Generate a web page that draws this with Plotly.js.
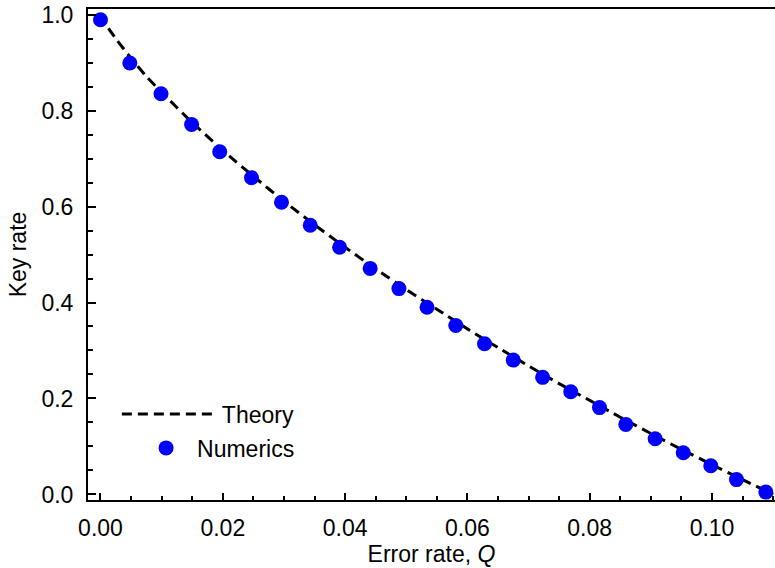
<!DOCTYPE html>
<html>
<head>
<meta charset="utf-8">
<script src="https://cdn.plot.ly/plotly-3.0.1.min.js"></script>
<style>html,body{margin:0;padding:0;background:#fff;}#chart{width:775px;height:568px;}</style>
</head>
<body>
<div id="chart"></div>
<script>
// Theory curve (dashed line)
const theoryQ = [0, 0.001, 0.0025, 0.005, 0.0075, 0.01, 0.015, 0.02, 0.025, 0.03, 0.035, 0.04, 0.045, 0.05, 0.055, 0.06, 0.065, 0.07, 0.075, 0.08, 0.085, 0.09, 0.095, 0.10, 0.105, 0.11];
const theoryRate = [1.0, 0.977, 0.950, 0.909, 0.871, 0.838, 0.775, 0.717, 0.663, 0.611, 0.562, 0.515, 0.470, 0.427, 0.386, 0.345, 0.306, 0.268, 0.231, 0.196, 0.161, 0.127, 0.094, 0.062, 0.031, 0.000];

// Numerics (blue dots)
const numQ = [0.0000, 0.0048, 0.0099, 0.0149, 0.0195, 0.0247, 0.0296, 0.0343, 0.0391, 0.0441, 0.0488, 0.0534, 0.0581, 0.0628, 0.0675, 0.0723, 0.0769, 0.0816, 0.0859, 0.0907, 0.0953, 0.0998, 0.1040, 0.1088];
const numRate = [0.989, 0.899, 0.835, 0.771, 0.714, 0.660, 0.609, 0.561, 0.515, 0.471, 0.429, 0.390, 0.352, 0.314, 0.280, 0.244, 0.214, 0.181, 0.146, 0.116, 0.087, 0.060, 0.031, 0.005];

const FONT = 'Liberation Sans, Arial, Helvetica, sans-serif';
const FS = 23;

const traces = [
  {
    x: theoryQ, y: theoryRate, type: 'scatter', mode: 'lines', name: 'Theory',
    line: {color: '#000000', width: 3, dash: '10px,6px', shape: 'spline', smoothing: 0.6},
    legend: 'legend'
  },
  {
    x: numQ, y: numRate, type: 'scatter', mode: 'markers', name: 'Numerics',
    marker: {color: '#0000ff', size: 15, line: {width: 0}},
    legend: 'legend2'
  }
];

const layout = {
  width: 775, height: 568,
  margin: {l: 88, r: 0, t: 9, b: 68, pad: 0},
  paper_bgcolor: '#ffffff', plot_bgcolor: '#ffffff',
  font: {family: FONT, size: FS, color: '#000'},
  showlegend: true,
  xaxis: {
    range: [-0.00204, 0.1103],
    tickmode: 'array', tickvals: [0, 0.02, 0.04, 0.06, 0.08, 0.10],
    ticktext: ['0.00', '0.02', '0.04', '0.06', '0.08', '0.10'],
    ticks: 'inside', ticklen: 7, tickwidth: 2, tickcolor: '#000',
    minor: {dtick: 0.005, tick0: 0, ticks: 'inside', ticklen: 4, tickwidth: 2, tickcolor: '#000', showgrid: false},
    showline: true, linecolor: '#000', linewidth: 2, mirror: true,
    showgrid: false, zeroline: false,
    ticklabelstandoff: 6,
    tickfont: {family: FONT, size: FS, color: '#000'},
    title: {text: 'Error rate, <i>Q</i>', font: {family: FONT, size: FS, color: '#000'}, standoff: 6}
  },
  yaxis: {
    range: [-0.0115, 1.0115],
    tickmode: 'array', tickvals: [0, 0.2, 0.4, 0.6, 0.8, 1.0],
    ticktext: ['0.0', '0.2', '0.4', '0.6', '0.8', '1.0'],
    ticks: 'inside', ticklen: 8, tickwidth: 2, tickcolor: '#000',
    minor: {dtick: 0.05, tick0: 0, ticks: 'inside', ticklen: 5, tickwidth: 2, tickcolor: '#000', showgrid: false},
    showline: true, linecolor: '#000', linewidth: 2, mirror: false,
    showgrid: false, zeroline: false,
    ticklabelstandoff: 8,
    tickfont: {family: FONT, size: FS, color: '#000'},
    title: {text: 'Key rate', font: {family: FONT, size: FS, color: '#000'}, standoff: 8}
  },
  legend: {
    x: 0.042, y: 0.175, xanchor: 'left', yanchor: 'middle',
    itemwidth: 95,
    bgcolor: 'rgba(0,0,0,0)', borderwidth: 0,
    font: {family: FONT, size: FS, color: '#000'}
  },
  legend2: {
    x: 0.0685, y: 0.106, xanchor: 'left', yanchor: 'middle',
    itemwidth: 52,
    bgcolor: 'rgba(0,0,0,0)', borderwidth: 0,
    font: {family: FONT, size: FS, color: '#000'}
  }
};

Plotly.newPlot('chart', traces, layout, {displayModeBar: false, staticPlot: true});
</script>
</body>
</html>
